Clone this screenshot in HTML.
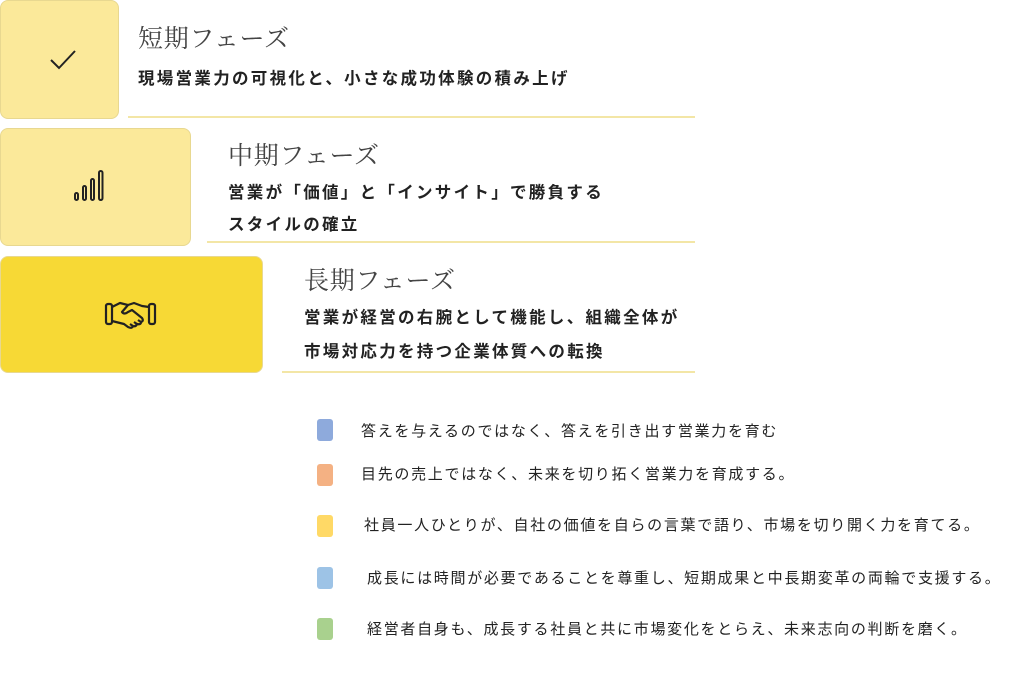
<!DOCTYPE html>
<html><head><meta charset="utf-8"><style>
body{margin:0;width:1024px;height:683px;background:#fff;position:relative;overflow:hidden;font-family:"Liberation Sans","Noto Sans CJK JP",sans-serif}
.a{position:absolute}
.box{position:absolute;border-radius:8px;border:1px solid #e8d890;box-sizing:border-box}
.ln{position:absolute;height:2px;background:#f3e6a6}
.t{position:absolute;font-family:"Liberation Serif","Noto Serif CJK SC",serif;font-size:25px;letter-spacing:0.7px;color:#444;white-space:nowrap}
.s{position:absolute;font-size:16.5px;letter-spacing:2.3px;font-weight:bold;color:#222;white-space:nowrap}
.sq{position:absolute;left:317px;width:16px;height:22px;border-radius:3px}
.l{position:absolute;font-size:15px;letter-spacing:1.7px;color:#222;white-space:nowrap}
</style></head><body>
<div class="box" style="left:0;top:0;width:119px;height:119px;background:#fbe99a"></div>
<svg class="a" style="left:48px;top:48px" width="30" height="24"><polyline points="3,12 11,20 27,3" fill="none" stroke="#222" stroke-width="2"/></svg>
<div class="ln" style="left:128px;top:116px;width:567px"></div>
<div class="t" style="left:138px;top:19px">短期フェーズ</div>
<div class="s" style="left:138px;top:65px">現場営業力の可視化と、小さな成功体験の積み上げ</div>

<div class="box" style="left:0;top:128px;width:191px;height:118px;background:#fbe99a"></div>
<svg class="a" style="left:72px;top:168px" width="36" height="36"><g fill="none" stroke="#222" stroke-width="2"><rect x="3" y="25" width="3" height="7" rx="1.5"/><rect x="11" y="18" width="3" height="14" rx="1.5"/><rect x="19" y="11" width="3" height="21" rx="1.5"/><rect x="27" y="3" width="3.5" height="29" rx="1.7"/></g></svg>
<div class="ln" style="left:207px;top:241px;width:488px"></div>
<div class="t" style="left:228px;top:136px">中期フェーズ</div>
<div class="s" style="left:228px;top:179px">営業が「価値」と「インサイト」で勝負する</div>
<div class="s" style="left:228px;top:211px">スタイルの確立</div>

<div class="box" style="left:0;top:256px;width:263px;height:117px;background:#f7d935"></div>
<svg class="a" style="left:104px;top:298px" width="54" height="34"><g fill="none" stroke="#222" stroke-width="2.2" stroke-linejoin="round"><rect x="2" y="6" width="6" height="20" rx="2"/><rect x="45" y="6" width="6" height="20" rx="2"/><path d="M8 9 L16 5 L24 7 L30 5 L38 8 L45 9"/><path d="M24 7 L18 14 Q20 17 24 14 L28 12 L38 20 Q40 23 37 24 L34 22 M37 24 Q37 27 33 26 L30 24 M33 26 Q32 29 29 28 L26 26 M29 28 Q28 31 24 29 L20 26 L8 23"/></g></svg>
<div class="ln" style="left:282px;top:371px;width:413px"></div>
<div class="t" style="left:304px;top:261px">長期フェーズ</div>
<div class="s" style="left:304px;top:304px">営業が経営の右腕として機能し、組織全体が</div>
<div class="s" style="left:304px;top:338px">市場対応力を持つ企業体質への転換</div>

<div class="sq" style="top:419px;background:#8eaadc"></div>
<div class="l" style="left:361px;top:420px">答えを与えるのではなく、答えを引き出す営業力を育む</div>
<div class="sq" style="top:464px;background:#f4b183"></div>
<div class="l" style="left:361px;top:463px">目先の売上ではなく、未来を切り拓く営業力を育成する。</div>
<div class="sq" style="top:515px;background:#ffd966"></div>
<div class="l" style="left:364px;top:514px">社員一人ひとりが、自社の価値を自らの言葉で語り、市場を切り開く力を育てる。</div>
<div class="sq" style="top:567px;background:#9dc3e6"></div>
<div class="l" style="left:367px;top:567px">成長には時間が必要であることを尊重し、短期成果と中長期変革の両輪で支援する。</div>
<div class="sq" style="top:618px;background:#a9d18e"></div>
<div class="l" style="left:367px;top:618px">経営者自身も、成長する社員と共に市場変化をとらえ、未来志向の判断を磨く。</div>
</body></html>
